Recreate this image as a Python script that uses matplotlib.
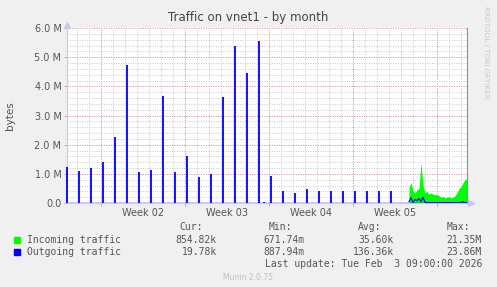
import numpy as np
import matplotlib
matplotlib.use("Agg")
import matplotlib.pyplot as plt
from matplotlib.patches import Rectangle

# time axis in days from the left edge of the graph
spike_days = [0, 1, 2, 3, 4, 5, 6, 7, 8, 9, 10, 11, 12, 13, 14, 15, 16, 16.4,
              17, 18, 19, 20, 21, 22, 23, 24, 25, 26, 27]
spike_out = [1.23, 1.10, 1.21, 1.41, 2.27, 4.73, 1.07, 1.14, 3.66, 1.07, 1.62,
             0.90, 1.00, 3.65, 5.39, 4.46, 5.55, 0.03,
             0.91, 0.40, 0.36, 0.49, 0.40, 0.40, 0.42, 0.42, 0.40, 0.40, 0.40]

# last days: samples every 4 hours (values in M bytes)
tail_start = 28.5
tail_step = 1 / 6
tail_in = [0.55, 0.70, 0.40, 0.35, 0.45, 0.50, 1.38, 0.60, 0.35, 0.40,
           0.30, 0.35, 0.30, 0.28, 0.30, 0.25, 0.20, 0.22, 0.18, 0.20,
           0.22, 0.18, 0.20, 0.25, 0.35, 0.50, 0.55, 0.70, 0.80, 0.85]
tail_out = [0.05, 0.18, 0.02, 0.12, 0.08, 0.15, 0.05, 0.20, 0.03, 0.01,
            0.01, 0.01, 0.01, 0.01, 0.01, 0.01, 0.01, 0.01, 0.01, 0.01,
            0.01, 0.01, 0.01, 0.01, 0.01, 0.01, 0.01, 0.04, 0.01, 0.02]

week_lines = [2.83, 9.83, 16.83, 23.83, 30.83]
week_labels = ["Week 02", "Week 03", "Week 04", "Week 05"]
y_ticks = [0, 1, 2, 3, 4, 5, 6]
y_labels = ["0.0", "1.0 M", "2.0 M", "3.0 M", "4.0 M", "5.0 M", "6.0 M"]

headers = ["Cur:", "Min:", "Avg:", "Max:"]
in_stats = ["854.82k", "671.74m", "35.60k", "21.35M"]
out_stats = ["19.78k", "887.94m", "136.36k", "23.86M"]

W, H = 497, 287
GREEN = "#00ff00"
BLUE = "#0000ff"
BG = "#f0f0f0"
TXT = "#555555"

fig = plt.figure(figsize=(W / 100, H / 100), dpi=100, facecolor=BG)
ax = fig.add_axes([67 / W, 1 - 203 / H, 400 / W, 175 / H])
ax.set_facecolor("white")

x_end = 400 / 12
ax.set_xlim(0, x_end)
ax.set_ylim(0, 6.0)

# grid
for d in np.arange(week_lines[0] - 2, x_end, 1.0):
    ax.axvline(d, color="#c8c8c8", lw=0.7, ls=(0, (1, 1.5)), zorder=0)
for v in np.arange(0.2, 6.0, 0.2):
    ax.axhline(v, color="#c8c8c8", lw=0.7, ls=(0, (1, 1.5)), zorder=0)
for d in week_lines:
    ax.axvline(d, color="#e09a9a", lw=0.7, ls=(0, (1, 1.5)), zorder=0.5)
for v in y_ticks[1:]:
    ax.axhline(v, color="#e09a9a", lw=0.7, ls=(0, (1, 1.5)), zorder=0.5)

# data
tail_x = tail_start + tail_step * np.arange(len(tail_in))
ax.fill_between(tail_x, 0, tail_in, color=GREEN, lw=0, zorder=2)
ax.vlines(spike_days, 0, spike_out, color=BLUE, lw=1.3, zorder=4, clip_on=False)
ax.plot(tail_x, tail_out, color=BLUE, lw=0.9, zorder=3)
ax.axhline(0, color=BLUE, lw=1.0, zorder=3)

# axes look
ax.spines["top"].set_visible(False)
ax.spines["left"].set_color("#c8c8f0")
ax.spines["bottom"].set_color("#c8c8f0")
ax.spines["right"].set_color("#909090")
for s in ax.spines.values():
    s.set_linewidth(0.8)
ax.plot([0], [1.02], marker="^", color="#c8c8f0", ms=4, transform=ax.transAxes, clip_on=False)
ax.plot([1.01], [0], marker=">", color="#c8c8f0", ms=4, transform=ax.transAxes, clip_on=False)

ax.set_yticks(y_ticks)
ax.set_yticklabels(y_labels, fontsize=7, color=TXT)
ax.set_xticks(week_lines)
ax.set_xticklabels([])
ax.tick_params(axis="both", length=2, width=0.7, color="#e09a9a", pad=2)
for d, lab in zip(week_lines, week_labels):
    ax.text(d + 3.5, -0.18, lab, ha="center", va="top", fontsize=7, color=TXT)

ax.set_ylabel("bytes", fontsize=7.5, color=TXT, labelpad=14)

fig.text(0.5, 1 - 18 / H, "Traffic on vnet1 - by month", ha="center", va="center",
         fontsize=8.5, color="#444444")
fig.text(486 / W, 1 - 52 / H, "RRDTOOL / TOBI OETIKER", rotation=270, ha="center",
         va="center", fontsize=5.2, color="#c8c8c8")

# legend block
mono = dict(family="DejaVu Sans Mono", fontsize=7, color=TXT)
cols = [217, 305, 394, 482]
for cx, h in zip([203, 292, 381, 470], headers):
    fig.text(cx / W, 1 - 227 / H, h, ha="right", va="center", **mono)
rows = [("Incoming traffic", GREEN, in_stats, 240),
        ("Outgoing traffic", BLUE, out_stats, 252)]
for name, col, stats, yy in rows:
    fig.patches.append(Rectangle((14 / W, 1 - (yy + 3) / H), 6 / W, 6 / H,
                                 color=col, transform=fig.transFigure))
    fig.text(27 / W, 1 - yy / H, name, ha="left", va="center", **mono)
    for cx, v in zip(cols, stats):
        fig.text(cx / W, 1 - yy / H, v, ha="right", va="center", **mono)
fig.text(482 / W, 1 - 264 / H, "Last update: Tue Feb  3 09:00:00 2026",
         ha="right", va="center", **mono)
fig.text(248 / W, 1 - 277 / H, "Munin 2.0.75", ha="center", va="center",
         fontsize=5.5, color="#c0c0c0")

fig.savefig("out.png", dpi=100, facecolor=BG)
